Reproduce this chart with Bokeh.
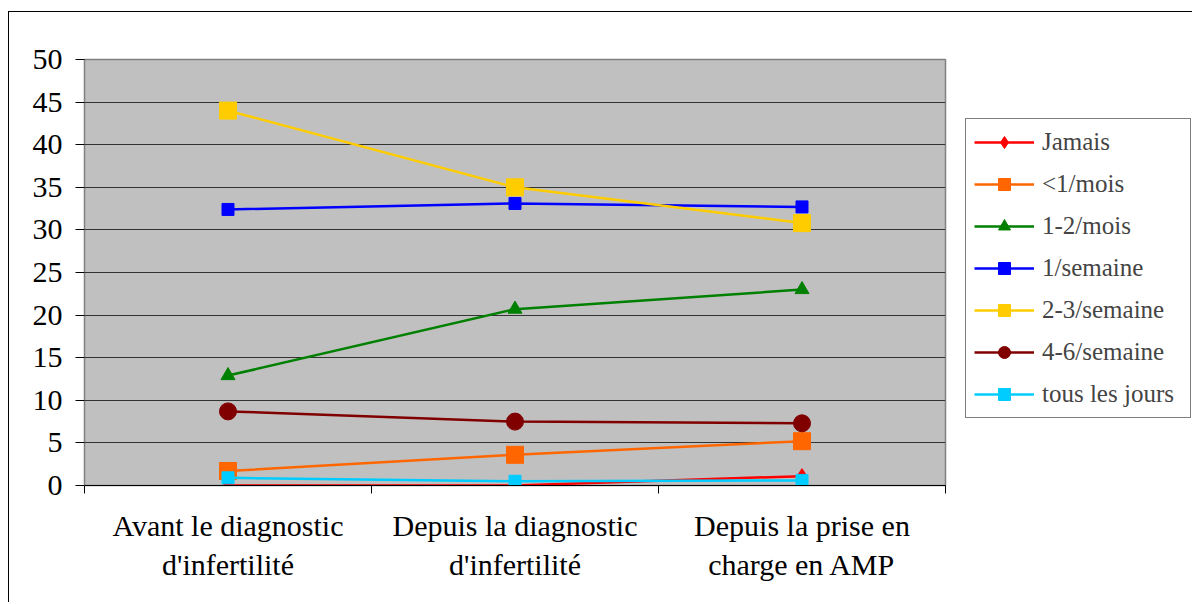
from bokeh.plotting import figure
from bokeh.models import FixedTicker, Legend, LegendItem, ColumnDataSource, Range1d
from bokeh.embed import file_html
from bokeh.resources import INLINE

categories = ["Avant le diagnostic\nd'infertilité",
              "Depuis la diagnostic\nd'infertilité",
              "Depuis la prise en\ncharge en AMP"]
series_names = ["Jamais", "<1/mois", "1-2/mois", "1/semaine",
                "2-3/semaine", "4-6/semaine", "tous les jours"]
jamais = [0.0, 0.0, 1.1]
moins_1_mois = [1.7, 3.6, 5.2]
un_deux_mois = [12.9, 20.7, 23.0]
un_semaine = [32.4, 33.1, 32.7]
deux_trois_semaine = [44.0, 35.0, 30.8]
quatre_six_semaine = [8.7, 7.5, 7.3]
tous_les_jours = [0.9, 0.5, 0.6]
y_ticks = [0, 5, 10, 15, 20, 25, 30, 35, 40, 45, 50]

series_values = [jamais, moins_1_mois, un_deux_mois, un_semaine,
                 deux_trois_semaine, quatre_six_semaine, tous_les_jours]
colors = ["#FF0000", "#FF6600", "#008000", "#0000FF", "#FFCC00", "#800000", "#00CCFF"]
markers = ["diamond", "square", "triangle", "square", "square", "circle", "square"]
msizes = [15, 17, 14, 12, 17, 17, 12]

FONT = "Liberation Serif"

p = figure(frame_width=861, frame_height=426, output_backend="svg", toolbar_location=None,
           x_range=Range1d(0, 3), y_range=Range1d(0, 50),
           min_border_left=75, min_border_top=47, min_border_bottom=117,
           min_border_right=244,
           background_fill_color="#C0C0C0", border_fill_color="white",
           outline_line_color="#808080", outline_line_width=1.5,
           styles={"margin-left": "8px", "margin-top": "11px",
                   "border-left": "1.5px solid black", "border-top": "1.5px solid black"})

xs = [i + 0.5 for i in range(len(categories))]

items = []
for name, vals, col, mk, ms in zip(series_names, series_values, colors, markers, msizes):
    src = ColumnDataSource(dict(x=xs, y=vals))
    l = p.line("x", "y", source=src, line_color=col, line_width=2.5)
    s = p.scatter("x", "y", source=src, marker=mk, size=ms, fill_color=col, line_color=col)
    items.append(LegendItem(label=name, renderers=[l, s]))

# axes
p.yaxis.ticker = FixedTicker(ticks=y_ticks)
p.yaxis.major_label_text_font = FONT
p.yaxis.major_label_text_font_size = "30px"
p.yaxis.major_label_text_color = "black"
p.yaxis.major_tick_out = 9
p.yaxis.major_tick_in = 0
p.yaxis.minor_tick_line_color = None
p.yaxis.major_tick_line_color = "black"
p.yaxis.axis_line_color = "#808080"
p.yaxis.major_label_standoff = 13

p.xaxis.ticker = FixedTicker(ticks=xs, minor_ticks=[0, 1, 2, 3])
p.xaxis.major_label_overrides = {x: c for x, c in zip(xs, categories)}
p.xaxis.major_label_text_font = FONT
p.xaxis.major_label_text_font_size = "30px"
p.xaxis.major_label_text_color = "black"
p.xaxis.major_tick_out = 0
p.xaxis.major_tick_in = 0
p.xaxis.minor_tick_out = 8
p.xaxis.minor_tick_in = 0
p.xaxis.minor_tick_line_color = "black"
p.xaxis.axis_line_color = "black"
p.xaxis.major_label_standoff = 15

p.xgrid.grid_line_color = None
p.ygrid.ticker = FixedTicker(ticks=y_ticks)
p.ygrid.grid_line_color = "#333333"
p.ygrid.grid_line_width = 1.2

legend = Legend(items=items, location=(20, 67),
                label_text_font=FONT, label_text_font_size="25px",
                label_height=30, spacing=12, glyph_width=60, glyph_height=30,
                label_width=140, label_standoff=8, padding=8, margin=0,
                border_line_color="black", border_line_width=1,
                background_fill_color="white", background_fill_alpha=1)
p.add_layout(legend, "right")

open("out.html", "w").write(file_html(p, INLINE))
